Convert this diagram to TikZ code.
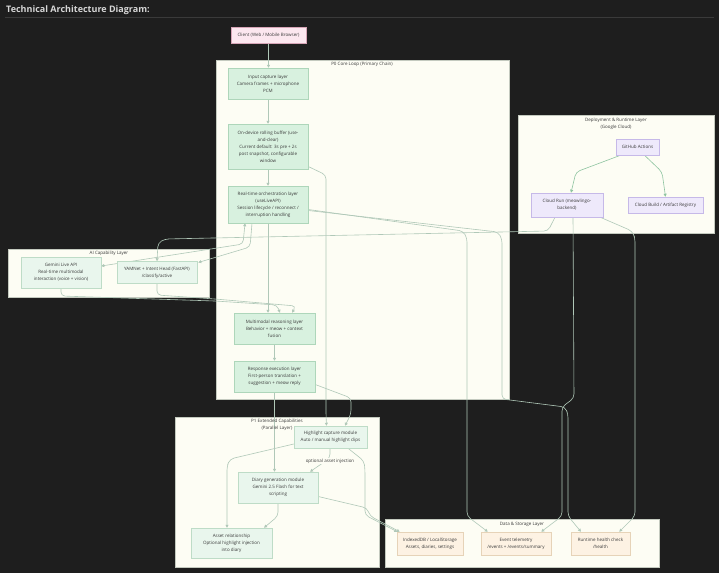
\documentclass[tikz,border=0pt]{standalone}
\usepackage{fontspec}
\setmainfont{Open Sans}
\usetikzlibrary{arrows.meta,calc,shadows}
\definecolor{bgc}{HTML}{1E1E1E}
\definecolor{titlec}{HTML}{D6D6D6}
\definecolor{rulec}{HTML}{3A3A3A}
\definecolor{clF}{HTML}{FDFDF4}
\definecolor{clD}{HTML}{C4CABF}
\definecolor{coreF}{HTML}{D8F1DF}
\definecolor{coreD}{HTML}{AED6BA}
\definecolor{lgF}{HTML}{E9F6ED}
\definecolor{lgD}{HTML}{BEDCC7}
\definecolor{stF}{HTML}{FDF2E3}
\definecolor{stD}{HTML}{E6D3B8}
\definecolor{puF}{HTML}{EEE9FB}
\definecolor{puD}{HTML}{C6B9E8}
\definecolor{clientF}{HTML}{FCE7EF}
\definecolor{clientD}{HTML}{D6A4B6}
\definecolor{txt}{HTML}{3A3A3A}
\definecolor{edgec}{HTML}{B0C8B8}
\definecolor{edgeg}{HTML}{8EC4A0}
\newcommand\nfont{\fontsize{4.5}{7}\selectfont}
\pgfdeclarelayer{bg}
\pgfdeclarelayer{edges}
\pgfsetlayers{bg,edges,main}
\tikzset{
  nbase/.style={rectangle, line width=0.5pt, align=center, font=\nfont, text=txt, inner sep=0pt,
    drop shadow={shadow xshift=0.7pt, shadow yshift=-0.7pt, opacity=0.18, fill=black}},
  core/.style={nbase, fill=coreF, draw=coreD},
  lite/.style={nbase, fill=lgF, draw=lgD},
  stor/.style={nbase, fill=stF, draw=stD},
  purp/.style={nbase, fill=puF, draw=puD},
  clientbox/.style={nbase, fill=clientF, draw=clientD},
  cluster/.style={rectangle, fill=clF, draw=clD, line width=0.6pt, inner sep=0pt},
  clabel/.style={font=\nfont, text=txt, align=center, inner sep=0pt},
  e/.style={draw=edgec, line width=0.6pt, rounded corners=4pt, -{Triangle[length=3pt,width=3pt]}},
  eg/.style={e, draw=edgeg},
}
\begin{document}
\begin{tikzpicture}[x=1pt,y=-1pt]
\useasboundingbox (0,0) rectangle (719,573);
\begin{pgfonlayer}{bg}
\fill[bgc] (0,0) rectangle (719,573);
\draw[rulec, line width=0.6pt] (5,17) -- (714,17);
\node[cluster, minimum width=293, minimum height=339] (p0) at (362.5,229.5) {};
\node[cluster, minimum width=201, minimum height=48] (ai) at (108.5,273) {};
\node[cluster, minimum width=196, minimum height=118] (dep) at (616.5,174) {};
\node[cluster, minimum width=204, minimum height=150] (p1) at (277,492) {};
\node[cluster, minimum width=274, minimum height=48] (ds) at (522,543) {};
\end{pgfonlayer}
\node[anchor=base west, font=\fontsize{9}{11}\selectfont\bfseries, text=titlec, inner sep=0pt] (title) at (6,12.5) {Technical Architecture Diagram:};
\node[clabel] (p0l) at (362,64) {P0 Core Loop (Primary Chain)};
\node[clabel] (ail) at (109,253) {AI Capability Layer};
\node[clabel] (depl) at (616,123.5) {Deployment \& Runtime Layer\\(Google Cloud)};
\node[clabel] (p1l) at (277,424.5) {P1 Extended Capabilities\\(Parallel Layer)};
\node[clabel] (dsl) at (522,524) {Data \& Storage Layer};

% nodes
\node[clientbox, minimum width=75, minimum height=16] (client) at (268.5,35) {Client (Web / Mobile Browser)};
\node[core, minimum width=80, minimum height=31] (input) at (268,83.5) {Input capture layer\\Camera frames + microphone\\PCM};
\node[core, minimum width=80, minimum height=45] (buffer) at (268,146.5) {On-device rolling buffer (use-\\and-clear)\\Current default: 3s pre + 2s\\post snapshot, configurable\\window};
\node[core, minimum width=80, minimum height=37] (orch) at (268,204.5) {Real-time orchestration layer\\(useLiveAPI)\\Session lifecycle / reconnect /\\interruption handling};
\node[core, minimum width=81, minimum height=31] (multi) at (274.5,328.5) {Multimodal reasoning layer\\Behavior + meow + context\\fusion};
\node[core, minimum width=81, minimum height=31] (response) at (274.5,376.5) {Response execution layer\\First-person translation +\\suggestion + meow reply};
\node[lite, minimum width=80, minimum height=31] (gemini) at (61,272.5) {Gemini Live API\\Real-time multimodal\\interaction (voice + vision)};
\node[lite, minimum width=80, minimum height=22] (yamnet) at (157,272.5) {YAMNet + Intent Head (FastAPI)\\/classify/active};
\node[purp, minimum width=43, minimum height=16] (github) at (637.5,147) {GitHub Actions};
\node[purp, minimum width=72, minimum height=24] (cloudrun) at (567,205) {Cloud Run (meowlingo-\\backend)};
\node[purp, minimum width=75, minimum height=16] (cloudbuild) at (665.5,205) {Cloud Build / Artifact Registry};
\node[lite, minimum width=73, minimum height=22] (highlight) at (330.5,437) {Highlight capture module\\Auto / manual highlight clips};
\node[lite, minimum width=80, minimum height=31] (diary) at (278,487.5) {Diary generation module\\Gemini 2.5 Flash for text\\scripting};
\node[lite, minimum width=81, minimum height=30] (asset) at (231.5,543) {Asset relationship\\Optional highlight injection\\into diary};
\node[stor, minimum width=66, minimum height=23] (idb) at (430,543.5) {IndexedDB / LocalStorage\\Assets, diaries, settings};
\node[stor, minimum width=70, minimum height=23] (event) at (516,543.5) {Event telemetry\\/events + /events/summary};
\node[stor, minimum width=59, minimum height=23] (health) at (600.5,543.5) {Runtime health check\\/health};
\node[clabel, fill=clF, inner sep=1pt] (optl) at (330,461) {optional asset injection};

% edges
\begin{pgfonlayer}{edges}
\draw[e] (client.south) -- (client.south |- input.north);
\draw[e] (input.south) -- (buffer.north);
\draw[e] (buffer.south) -- (orch.north);
\draw[e] (orch.south) -- (orch.south |- multi.north);
\draw[e] (multi.south) -- (response.north);
\draw[e, {Triangle[length=3pt,width=3pt]}-{Triangle[length=3pt,width=3pt]}] ($(orch.south)+(-23,0)$) -- (243,244) -- ($(gemini.east)+(0,-6.5)$);
\draw[e] ($(orch.south)+(-16,0)$) -- (250,247) -- ($(yamnet.east)+(1,-10)$);
\draw[e] (gemini.south) -- (61,296) -- (215,301) -- (277,305) -- ($(multi.north)+(5.5,0)$);
\draw[e] (yamnet.south) -- (157,295) -- (215,299) -- (296,306) -- ($(multi.north)+(17.5,0)$);
\draw[e] ($(buffer.east)+(0,20)$) -- (326,175) -- (326,415) -- ($(highlight.north)+(-4,0)$);
\draw[e] ($(response.east)+(0,8)$) -- (351,398) -- (351,414) -- ($(highlight.north)+(14.5,0)$);
\draw[e] (response.south) -- (response.south |- diary.north);
\draw[e] ($(highlight.south)+(-0.5,0)$) -- (330,458) -- ($(diary.north)+(32,0)$);
\draw[e] ($(highlight.west)+(0,7)$) -- (230,459) -- (227,466) -- ($(asset.north)+(-4.5,0)$);
\draw[e] (diary.south) -- (278,516) -- ($(asset.north)+(32.5,0)$);
\draw[e] ($(highlight.south)+(17.5,0)$) -- (364,461) -- (365,470) -- (365,515) -- ($(idb.north west)+(0.5,0)$);
\draw[e] ($(diary.east)+(0,9)$) -- (367,508) -- (370,516) -- ($(idb.north west)+(3,0)$);
\draw[e] ($(orch.east)+(0,5)$) -- (463,231) -- (467,238) -- (467,516) -- ($(event.north west)+(7,0)$);
\draw[e] ($(orch.east)+(0,6)$) -- (498,232) -- (502,239) -- (502,399) -- (565,407) -- (568,414) -- (568,516) -- ($(health.north)+(-19.5,0)$);
\draw[e] ($(cloudrun.south)+(-12,0)$) -- (548,231) -- (165,239) -- (158,243) -- (yamnet.north);
\draw[e] ($(cloudrun.south)+(6,0)$) -- (574,398) -- (562,407) -- (562,516) -- ($(event.north east)+(-10,0)$);
\draw[e] ($(cloudrun.south east)+(-3,0)$) -- (632,231) -- (635,238) -- (635,516) -- ($(health.north east)+(-11,0)$);
\draw[eg] ($(github.south)+(-17,0)$) -- (576,172) -- ($(cloudrun.north)+(4,0)$);
\draw[eg] ($(github.south)+(7,0)$) -- (662,172) -- (cloudbuild.north);
\end{pgfonlayer}
\end{tikzpicture}
\end{document}
